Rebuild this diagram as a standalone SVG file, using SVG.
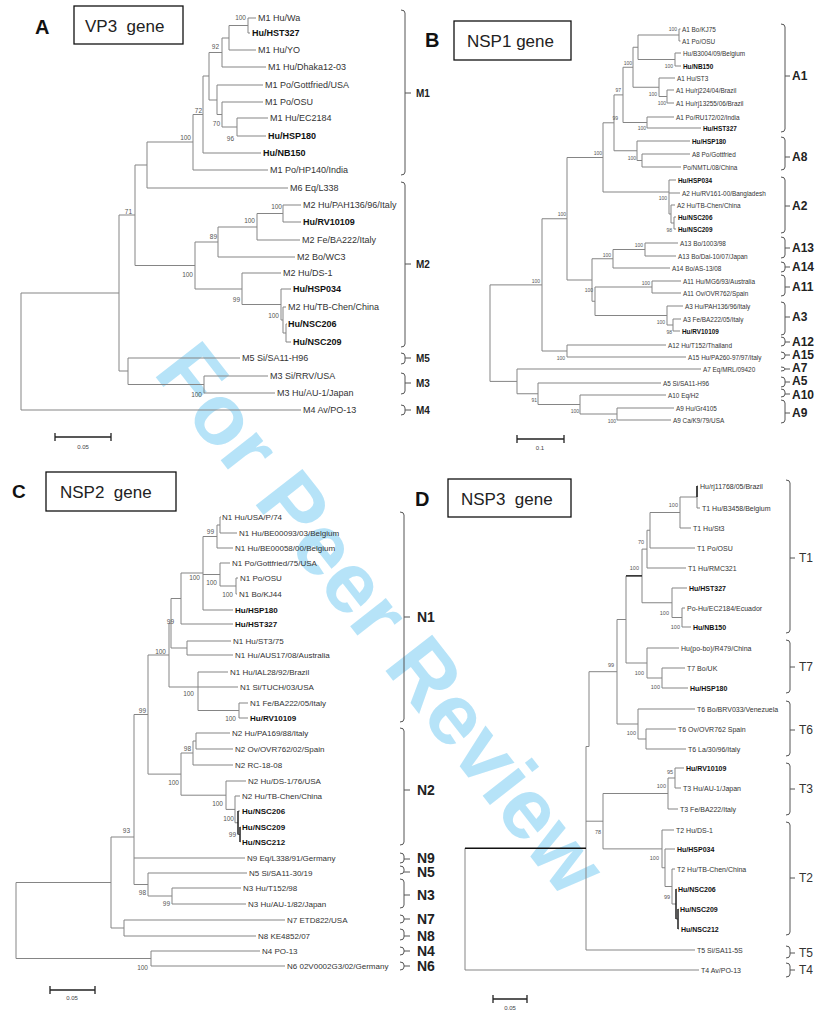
<svg xmlns="http://www.w3.org/2000/svg" width="815" height="1012" viewBox="0 0 815 1012">
<style>
.t{font-family:"Liberation Sans",Arial,sans-serif;dominant-baseline:central;fill:#333}
.la{font-size:9px}.lb{font-size:6.4px}.lc{font-size:8px}.ld{font-size:7px}
.b{font-weight:bold;fill:#111}
.bs{text-anchor:end;fill:#555}
.ba{font-size:6.5px}.bb{font-size:5px}.bc{font-size:6.5px}.bd{font-size:5.5px}
.tr{fill:none;stroke:#858585;stroke-width:1}
.dk{fill:none;stroke:#111;stroke-width:1.4}
.br{fill:none;stroke:#555;stroke-width:1}
.gl{font-weight:bold;fill:#222}
.box{fill:none;stroke:#111;stroke-width:1.3}
.ttl{font-size:17px;fill:#222}
.pl{font-weight:bold;fill:#111}
.sb{fill:none;stroke:#222;stroke-width:1.3}
.sl{font-size:6px;text-anchor:middle;fill:#444}
.wm{font-family:"Liberation Sans",Arial,sans-serif;dominant-baseline:central;text-anchor:middle;font-weight:bold;font-size:86px;fill:#9dd9f6;fill-opacity:0.75}
</style>
<rect width="815" height="1012" fill="#fff"/>
<text id="watermark" class="wm" x="0" y="0" transform="translate(382,618) rotate(52)">For Peer Review</text>

<!-- Panel A -->
<g id="panelA">
<text class="t pl" x="35" y="27" font-size="20">A</text>
<g id="A-title"><rect class="box" x="74" y="6" width="109" height="38"/><text class="t ttl" x="85" y="26">VP3&#160; gene</text></g>
<g id="A-connectors"><path class="tr" d="M248 18V33M229 25.5V50M222 38V67M237 118V136M222 102V127M217 85V114.5M209 52.5V100M203 76V153M193 114.5V170M147 142V188M283 205V222M257 213.5V240M218 227V257M286 324V342M283 307V333M281 289V320M242 273V304.5M195 242V289M135 165V265.5M204 376V393M128 358V384.5M119 215V371M21 293V410
M248 18H256M248 33H250M229 50H256M222 67H266M217 85H263M222 102H263M237 118H268M237 136H266M203 153H261M193 170H268M147 188H288M283 205H301M283 222H301M257 240H300M218 257H295M242 273H281M281 289H291M283 307H286M286 324H287M286 342H291M128 358H240M204 376H268M204 393H275M21 410H301
M229 25.5H248M222 38H229M209 52.5H222M222 127H237M217 114.5H222M209 100H217M203 76H209M193 114.5H203M147 142H193M135 165H147M257 213.5H283M218 227H257M195 242H218M283 333H286M281 320H283M242 304.5H281M195 289H242M135 265.5H195M119 215H135M128 384.5H204M119 371H128M21 293H119"/></g>
<g id="A-leaves" class="t la">
<text x="258" y="18">M1 Hu/Wa</text>
<text class="b" x="252" y="33">Hu/HST327</text>
<text x="258" y="50">M1 Hu/YO</text>
<text x="268" y="67">M1 Hu/Dhaka12-03</text>
<text x="265" y="85">M1 Po/Gottfried/USA</text>
<text x="265" y="102">M1 Po/OSU</text>
<text x="270" y="118">M1 Hu/EC2184</text>
<text class="b" x="268" y="136">Hu/HSP180</text>
<text class="b" x="263" y="153">Hu/NB150</text>
<text x="270" y="170">M1 Po/HP140/India</text>
<text x="290" y="188">M6 Eq/L338</text>
<text x="303" y="205">M2 Hu/PAH136/96/Italy</text>
<text class="b" x="303" y="222">Hu/RV10109</text>
<text x="302" y="240">M2 Fe/BA222/Italy</text>
<text x="297" y="257">M2 Bo/WC3</text>
<text x="283" y="273">M2 Hu/DS-1</text>
<text class="b" x="293" y="289">Hu/HSP034</text>
<text x="288" y="307">M2 Hu/TB-Chen/China</text>
<text class="b" x="288" y="324">Hu/NSC206</text>
<text class="b" x="293" y="342">Hu/NSC209</text>
<text x="242" y="358">M5 Si/SA11-H96</text>
<text x="270" y="376">M3 Si/RRV/USA</text>
<text x="277" y="393">M3 Hu/AU-1/Japan</text>
<text x="303" y="410">M4 Av/PO-13</text>
</g>
<g id="A-bootstrap" class="t bs ba">
<text x="246" y="17">100</text><text x="219" y="46">92</text><text x="202" y="110">72</text><text x="220" y="123">70</text><text x="234" y="138">96</text><text x="191" y="137">100</text><text x="282" y="206">100</text><text x="255" y="220">100</text><text x="217" y="236">89</text><text x="193" y="274">100</text><text x="240" y="299">99</text><text x="279" y="315">100</text><text x="132" y="211">71</text><text x="202" y="394">100</text>
</g>
<g id="A-scale"><path class="sb" d="M55 437H111M55 433V441M111 433V441"/><text class="t sl" x="83" y="447">0.05</text></g>
<g id="A-groups"><path class="br" d="M401 10Q405 10 405 13V172Q405 175 401 175M405 93H411M401 182Q405 182 405 185V344Q405 347 401 347M405 264H411M401 353Q405 353 405 356V361Q405 364 401 364M405 358H411M401 373Q405 373 405 376V391Q405 394 401 394M405 383H411M401 405Q405 405 405 408V412Q405 415 401 415M405 410H411"/>
<g class="t gl" font-size="10"><text x="416" y="93">M1</text><text x="416" y="264">M2</text><text x="416" y="358">M5</text><text x="416" y="383">M3</text><text x="416" y="410">M4</text></g></g>
</g>

<!-- Panel B -->
<g id="panelB">
<text class="t pl" x="425" y="40" font-size="20">B</text>
<g id="B-title"><rect class="box" x="454" y="21" width="117" height="39"/><text class="t ttl" x="467" y="41">NSP1 gene</text></g>
<g id="B-connectors"><path class="tr" d="M679 29V41M675 53V66M638 35V59.5M667 90V103M659 78V96.5M633 47.25V87.25M647 117V128M623 67.25V122.5M642 154V167M637 141V160.5M614 94.9V150.75M674 217V229M671 205V223M669 180V214M603 122.8V192M645 243V256M613 249.5V268M652 281V293M673 319V331M667 306V325M595 287V315.5M592 258.75V301.25M567 157.5V280M567 345V357M542 218.75V351M617 408V420M580 395V414M538 383V404.5M517 369V393.75M490 284.9V381.4
M679 29H680.5M679 41H680.5M675 53H681M675 66H681M659 78H675M667 90H674M667 103H674M647 117H674M647 128H701M637 141H690M642 154H690M642 167H681M669 180H676M669 193H680M671 205H675M674 217H676M674 229H676M645 243H678M645 256H676M613 268H670M652 281H681M652 293H681M667 306H683M673 319H681M673 331H680M567 345H666M567 357H686M517 369H701M538 383H661M580 395H666M617 408H674M617 420H671
M638 35H679M638 59.5H675M633 47.25H638M659 96.5H667M633 87.25H659M623 67.25H633M623 122.5H647M614 94.9H623M637 160.5H642M614 150.75H637M603 122.8H614M671 223H674M669 214H671M603 192H669M567 157.5H603M613 249.5H645M592 258.75H613M595 287H652M667 325H673M595 315.5H667M592 301.25H595M567 280H592M542 218.75H567M542 351H567M490 284.9H542M580 414H617M538 404.5H580M517 393.75H538M490 381.4H517"/></g>
<g id="B-leaves" class="t lb">
<text x="682" y="29">A1 Bo/KJ75</text>
<text x="682" y="41">A1 Po/OSU</text>
<text x="683" y="53">Hu/B3004/09/Belgium</text>
<text class="b" x="683" y="66">Hu/NB150</text>
<text x="677" y="78">A1 Hu/ST3</text>
<text x="676" y="90">A1 Hu/rj224/04/Brazil</text>
<text x="676" y="103">A1 Hu/rj13255/06/Brazil</text>
<text x="676" y="117">A1 Po/RU172/02/India</text>
<text class="b" x="703" y="128">Hu/HST327</text>
<text class="b" x="692" y="141">Hu/HSP180</text>
<text x="692" y="154">A8 Po/Gottfried</text>
<text x="683" y="167">Po/NMTL/08/China</text>
<text class="b" x="678" y="180">Hu/HSP034</text>
<text x="682" y="193">A2 Hu/RV161-00/Bangladesh</text>
<text x="677" y="205">A2 Hu/TB-Chen/China</text>
<text class="b" x="678" y="217">Hu/NSC206</text>
<text class="b" x="678" y="229">Hu/NSC209</text>
<text x="680" y="243">A13 Bo/1003/98</text>
<text x="678" y="256">A13 Bo/Dai-10/07/Japan</text>
<text x="672" y="268">A14 Bo/AS-13/08</text>
<text x="683" y="281">A11 Hu/MG6/93/Australia</text>
<text x="683" y="293">A11 Ov/OVR762/Spain</text>
<text x="685" y="306">A3 Hu/PAH136/96/Italy</text>
<text x="683" y="319">A3 Fe/BA222/05/Italy</text>
<text class="b" x="682" y="331">Hu/RV10109</text>
<text x="668" y="345">A12 Hu/T152/Thailand</text>
<text x="688" y="357">A15 Hu/PA260-97/97/Italy</text>
<text x="703" y="369">A7 Eq/MRL/09420</text>
<text x="663" y="383">A5 Si/SA11-H96</text>
<text x="668" y="395">A10 Eq/H2</text>
<text x="676" y="408">A9 Hu/Gr4105</text>
<text x="673" y="420">A9 Ca/K9/79/USA</text>
</g>
<g id="B-bootstrap" class="t bs bb">
<text x="677" y="29">100</text><text x="673" y="66">100</text><text x="632" y="63">100</text><text x="657" y="94">100</text><text x="666" y="103">100</text><text x="621" y="90">97</text><text x="618" y="118">99</text><text x="646" y="128">100</text><text x="636" y="158">100</text><text x="602" y="153">100</text><text x="667" y="198">100</text><text x="672" y="230">98</text><text x="643" y="245">100</text><text x="611" y="255">100</text><text x="566" y="214">100</text><text x="650" y="283">100</text><text x="593" y="290">100</text><text x="540" y="281">100</text><text x="665" y="322">100</text><text x="672" y="332">98</text><text x="565" y="358">100</text><text x="537" y="400">91</text><text x="579" y="411">100</text><text x="616" y="421">100</text>
</g>
<g id="B-scale"><path class="sb" d="M517 439H564M517 435V443M564 435V443"/><text class="t sl" x="540" y="448">0.1</text></g>
<g id="B-groups"><path class="br" d="M781 24Q785 24 785 27V129Q785 132 781 132M785 76H790M781 137Q785 137 785 140V167Q785 170 781 170M785 157H790M781 177Q785 177 785 180V230Q785 233 781 233M785 206H790M781 237Q785 237 785 240V255Q785 258 781 258M785 248H790M781 262Q785 262 785 265V269Q785 272 781 272M785 267H790M781 275Q785 275 785 278V293Q785 296 781 296M785 287H790M781 302Q785 302 785 305V332Q785 335 781 335M785 317H790M781 337Q785 337 785 340V343Q785 346 781 346M785 342H790M781 352Q785 352 785 355V356Q785 359 781 359M785 355H790M781 367Q785 367 785 369Q785 371 781 371M785 369H790M781 377Q785 377 785 380V384Q785 387 781 387M785 382H790M781 389Q785 389 785 392V394Q785 397 781 397M785 394H790M781 400Q785 400 785 403V420Q785 423 781 423M785 413H790"/>
<g class="t gl" font-size="12"><text x="792" y="76">A1</text><text x="792" y="157">A8</text><text x="792" y="206">A2</text><text x="792" y="248">A13</text><text x="792" y="267">A14</text><text x="792" y="287">A11</text><text x="792" y="317">A3</text><text x="792" y="342">A12</text><text x="792" y="355">A15</text><text x="792" y="368">A7</text><text x="792" y="381">A5</text><text x="792" y="395">A10</text><text x="792" y="413">A9</text></g></g>
</g>

<!-- Panel C -->
<g id="panelC">
<text class="t pl" x="12" y="491" font-size="19">C</text>
<g id="C-title"><rect class="box" x="46" y="472" width="130" height="39"/><text class="t ttl" x="60" y="492">NSP2&#160; gene</text></g>
<g id="C-connectors"><path class="tr" d="M220 517V533M217 525V548M236 578V594M220 563V586M203 536.5V610M181 573V624M187 641V655M171 598.5V648M239 703V718M198 672V710.5M169 623.25V687M196 733V749M193 741V765M235 796V822.75M226 781V809.4M181 753V795.2M148 655V774.1M172 888V904M148 873V896M134 714.5V884.5M124 920V936M111 837V928M151 951V966M16 882.5V958.5
M220 517H221M220 533H237M217 548H233M220 563H230M236 578H238M236 594H237M203 610H233M181 624H233M187 641H231M187 655H233M198 672H228M198 687H238M239 703H248M239 718H248M196 733H230M196 749H233M193 765H233M226 781H246M235 796H240M238 811H240M240 827H240.5M240 842H240.5M134 858H245M148 873H247M172 888H241M172 904H246M124 920H285M124 936H256M151 951H260M151 966H285
M217 525H220M203 536.5H217M220 586H236M203 574.5H220M181 573H203M171 598.5H181M171 648H187M169 623.25H171M198 710.5H239M169 687H198M148 655H169M193 741H196M181 753H193M238 834.5H240M235 822.75H238M226 809.4H235M181 795.2H226M148 774.1H181M134 714.5H148M148 896H172M134 884.5H148M111 928H124M111 837H134M16 882.5H111M16 958.5H151"/>
<path class="dk" d="M240 827V842M238 811V834.5"/></g>
<g id="C-leaves" class="t lc">
<text x="222" y="517">N1 Hu/USA/P/74</text>
<text x="239" y="533">N1 Hu/BE00093/03/Belgium</text>
<text x="235" y="548">N1 Hu/BE00058/00/Belgium</text>
<text x="232" y="563">N1 Po/Gottfried/75/USA</text>
<text x="240" y="578">N1 Po/OSU</text>
<text x="239" y="594">N1 Bo/KJ44</text>
<text class="b" x="235" y="610">Hu/HSP180</text>
<text class="b" x="235" y="624">Hu/HST327</text>
<text x="233" y="641">N1 Hu/ST3/75</text>
<text x="235" y="655">N1 Hu/AUS17/08/Australia</text>
<text x="230" y="672">N1 Hu/IAL28/92/Brazil</text>
<text x="240" y="687">N1 Si/TUCH/03/USA</text>
<text x="250" y="703">N1 Fe/BA222/05/Italy</text>
<text class="b" x="250" y="718">Hu/RV10109</text>
<text x="232" y="733">N2 Hu/PA169/88/Italy</text>
<text x="235" y="749">N2 Ov/OVR762/02/Spain</text>
<text x="235" y="765">N2 RC-18-08</text>
<text x="248" y="781">N2 Hu/DS-1/76/USA</text>
<text x="242" y="796">N2 Hu/TB-Chen/China</text>
<text class="b" x="242" y="811">Hu/NSC206</text>
<text class="b" x="242" y="827">Hu/NSC209</text>
<text class="b" x="242" y="842">Hu/NSC212</text>
<text x="247" y="858">N9 Eq/L338/91/Germany</text>
<text x="249" y="873">N5 Si/SA11-30/19</text>
<text x="243" y="888">N3 Hu/T152/98</text>
<text x="248" y="904">N3 Hu/AU-1/82/Japan</text>
<text x="287" y="920">N7 ETD822/USA</text>
<text x="258" y="936">N8 KE4852/07</text>
<text x="262" y="951">N4 PO-13</text>
<text x="287" y="966">N6 02V0002G3/02/Germany</text>
</g>
<g id="C-bootstrap" class="t bs bc">
<text x="214" y="531">99</text><text x="217" y="582">100</text><text x="200" y="577">100</text><text x="233" y="594">100</text><text x="174" y="621">99</text><text x="166" y="651">100</text><text x="194" y="693">100</text><text x="236" y="718">100</text><text x="146" y="710">99</text><text x="191" y="748">98</text><text x="179" y="782">100</text><text x="223" y="803">100</text><text x="234" y="818">100</text><text x="236" y="834">99</text><text x="130" y="830">93</text><text x="146" y="892">98</text><text x="170" y="903">99</text><text x="148" y="967">100</text>
</g>
<g id="C-scale"><path class="sb" d="M50 990H95M50 986V994M95 986V994"/><text class="t sl" x="72" y="998">0.05</text></g>
<g id="C-groups"><path class="br" d="M400 512Q404 512 404 515V719Q404 722 400 722M404 617H410M400 728Q404 728 404 731V842Q404 845 400 845M404 790H410M400 853Q404 853 404 856V860Q404 863 400 863M404 859H410M400 866Q404 866 404 869V871Q404 874 400 874M404 872H410M400 879Q404 879 404 882V905Q404 908 400 908M404 895H410M400 915Q404 915 404 918V920Q404 923 400 923M404 919H410M400 929Q404 929 404 932V937Q404 940 400 940M404 936H410M400 947Q404 947 404 950V952Q404 955 400 955M404 951H410M400 962Q404 962 404 965V967Q404 970 400 970M404 966H410"/>
<g class="t gl" font-size="14"><text x="417" y="617">N1</text><text x="417" y="790">N2</text><text x="417" y="858">N9</text><text x="417" y="872">N5</text><text x="417" y="895">N3</text><text x="417" y="919">N7</text><text x="417" y="936">N8</text><text x="417" y="951">N4</text><text x="417" y="966">N6</text></g></g>
</g>

<!-- Panel D -->
<g id="panelD">
<text class="t pl" x="415" y="499" font-size="20">D</text>
<g id="D-title"><rect class="box" x="448" y="479" width="123" height="38"/><text class="t ttl" x="461" y="499">NSP3&#160; gene</text></g>
<g id="D-connectors"><path class="tr" d="M697 486V508M680 497V528M650 512.5V548M647 530.25V568M682 608V627M672 588V617.5M642 549.1V602.75M662 668V688M647 648V678M626 575.9V663M646 729V749M638 709V739M617 619.5V724M675 768V788M668 778V809M672 869V904M665 849V886.5M662 830V867.75M603 793.5V848.9M589 671.7V746.5M586 746.5V950M465 848.2V970
M697 486H698M697 508H700M680 528H691M650 548H695M647 568H686M672 588H687M682 608H685M682 627H691M647 648H679M662 668H685M662 688H688M638 709H695M646 729H676M646 749H686M675 768H684M675 788H681M668 809H678M662 830H674M665 849H675M672 869H675M676 889H676.5M678 909H678.5M678 929H679M586 950H695M465 970H699
M680 497H697M650 512.5H680M647 530.25H650M642 549.1H647M672 617.5H682M642 602.75H672M626 575.9H642M647 678H662M626 663H647M617 619.5H626M638 739H646M617 724H638M589 671.7H617M668 778H675M603 793.5H668M676 919H678M672 904H676M665 886.5H672M662 867.75H665M603 848.9H662M586 821.2H603M586 746.5H589"/>
<path class="dk" d="M465 848.2H586M678 909V929M676 889V919M697 486V497M626 575.9H642"/></g>
<g id="D-leaves" class="t ld">
<text x="700" y="486">Hu/rj11768/05/Brazil</text>
<text x="702" y="508">T1 Hu/B3458/Belgium</text>
<text x="693" y="528">T1 Hu/St3</text>
<text x="697" y="548">T1 Po/OSU</text>
<text x="688" y="568">T1 Hu/RMC321</text>
<text class="b" x="689" y="588">Hu/HST327</text>
<text x="687" y="608">Po-Hu/EC2184/Ecuador</text>
<text class="b" x="693" y="627">Hu/NB150</text>
<text x="681" y="648">Hu(po-bo)/R479/China</text>
<text x="687" y="668">T7 Bo/UK</text>
<text class="b" x="690" y="688">Hu/HSP180</text>
<text x="697" y="709">T6 Bo/BRV033/Venezuela</text>
<text x="678" y="729">T6 Ov/OVR762 Spain</text>
<text x="688" y="749">T6 La/30/96/Italy</text>
<text class="b" x="686" y="768">Hu/RV10109</text>
<text x="683" y="788">T3 Hu/AU-1/Japan</text>
<text x="680" y="809">T3 Fe/BA222/Italy</text>
<text x="676" y="830">T2 Hu/DS-1</text>
<text class="b" x="677" y="849">Hu/HSP034</text>
<text x="677" y="869">T2 Hu/TB-Chen/China</text>
<text class="b" x="678" y="889">Hu/NSC206</text>
<text class="b" x="680" y="909">Hu/NSC209</text>
<text class="b" x="681" y="929">Hu/NSC212</text>
<text x="697" y="950">T5 Si/SA11-5S</text>
<text x="701" y="970">T4 Av/PO-13</text>
</g>
<g id="D-bootstrap" class="t bs bd">
<text x="678" y="505">100</text><text x="644" y="542">70</text><text x="639" y="568">100</text><text x="669" y="613">100</text><text x="680" y="627">100</text><text x="614" y="665">99</text><text x="644" y="673">100</text><text x="660" y="687">100</text><text x="636" y="733">100</text><text x="673" y="772">95</text><text x="666" y="786">100</text><text x="601" y="832">78</text><text x="659" y="858">100</text><text x="670" y="897">99</text>
</g>
<g id="D-scale"><path class="sb" d="M493 999H527M493 995V1003M527 995V1003"/><text class="t sl" x="510" y="1008">0.05</text></g>
<g id="D-groups"><path class="br" d="M786 480Q790 480 790 483V630Q790 633 786 633M790 558H795M786 640Q790 640 790 643V690Q790 693 786 693M790 667H795M786 701Q790 701 790 704V753Q790 756 786 756M790 730H795M786 763Q790 763 790 766V812Q790 815 786 815M790 789H795M786 822Q790 822 790 825V932Q790 935 786 935M790 878H795M786 946Q790 946 790 949V955Q790 958 786 958M790 953H795M786 963Q790 963 790 966V974Q790 977 786 977M790 970H795"/>
<g class="t" font-size="12"><text x="799" y="558">T1</text><text x="799" y="667">T7</text><text x="799" y="730">T6</text><text x="799" y="789">T3</text><text x="799" y="878">T2</text><text x="799" y="953">T5</text><text x="799" y="970">T4</text></g></g>
</g>
</svg>
